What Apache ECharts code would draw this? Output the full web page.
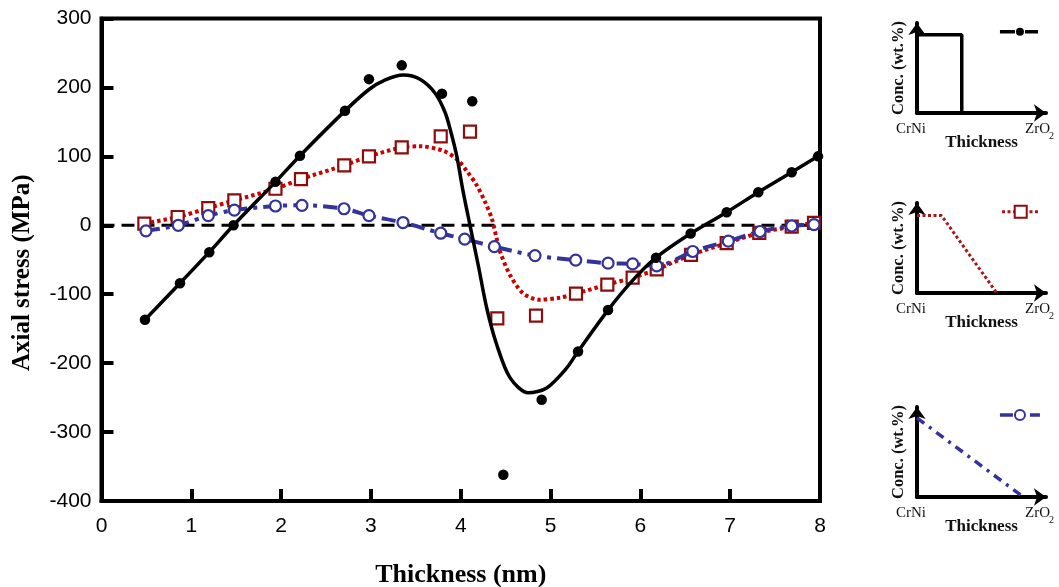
<!DOCTYPE html>
<html>
<head>
<meta charset="utf-8">
<script src="https://cdn.jsdelivr.net/npm/echarts@6/dist/echarts.min.js"></script>
<style>
html, body { margin: 0; padding: 0; background: #fff; }
#chart { width: 1059px; height: 587px; }
</style>
</head>
<body>
<div id="chart"></div>
<script>
// Axial stress (MPa) against thickness (nm) for three CrNi/ZrO2 concentration profiles
const xTickValues = [0, 1, 2, 3, 4, 5, 6, 7, 8];
const yTickValues = [-400, -300, -200, -100, 0, 100, 200, 300];

// measured points: [thickness nm, stress MPa]
const blackPoints = [
  [0.484, -137], [0.874, -84], [1.200, -39], [1.470, 0], [1.937, 63], [2.210, 101],
  [2.711, 166], [2.978, 212], [3.343, 232], [3.791, 191], [4.128, 180], [4.474, -362],
  [4.901, -253], [5.306, -183], [5.640, -123], [6.174, -47], [6.560, -12], [6.961, 19],
  [7.313, 48], [7.685, 77], [7.978, 100]
];
const redPoints = [
  [0.477, 2.5], [0.848, 12], [1.189, 25], [1.479, 36], [1.937, 53], [2.221, 67],
  [2.703, 87], [2.978, 100], [3.343, 113], [3.777, 129], [4.103, 136], [4.407, -135],
  [4.838, -131], [5.283, -99], [5.632, -86], [5.914, -76], [6.182, -64], [6.564, -43],
  [6.961, -26], [7.324, -11], [7.685, -2], [7.933, 3.5]
];
const bluePoints = [
  [0.495, -8], [0.855, 0], [1.189, 14], [1.479, 22], [1.937, 28], [2.232, 29],
  [2.700, 24], [2.978, 14], [3.357, 4], [3.777, -11.5], [4.044, -20], [4.374, -31],
  [4.827, -44], [5.280, -50.5], [5.640, -55], [5.914, -56], [6.182, -59], [6.583, -38],
  [6.979, -23], [7.332, -9], [7.685, -1], [7.933, 1]
];

// fitted trend curves
const blackFit = [
  [0.484, -137], [0.874, -84], [1.200, -39], [1.470, 0], [1.937, 63], [2.210, 101],
  [2.711, 166], [2.978, 197], [3.160, 211], [3.360, 218], [3.546, 212], [3.713, 192],
  [3.825, 164], [3.891, 135], [3.958, 99], [4.025, 50], [4.103, 0], [4.195, -58],
  [4.289, -120], [4.400, -173], [4.548, -221], [4.752, -243], [4.957, -236], [5.180, -207],
  [5.306, -183], [5.640, -123], [5.914, -80], [6.174, -47], [6.560, -12], [6.961, 19],
  [7.313, 48], [7.685, 77], [7.978, 100]
];
const redFit = [
  [0.477, 2.5], [0.848, 12], [1.189, 25], [1.479, 36], [1.937, 53], [2.221, 67],
  [2.703, 87], [2.978, 100], [3.343, 113], [3.546, 114.6], [3.806, 108], [3.955, 96],
  [4.066, 79], [4.178, 58], [4.270, 34], [4.345, 10], [4.400, -19], [4.437, -38],
  [4.548, -72], [4.697, -99], [4.882, -108], [5.105, -105], [5.283, -99], [5.632, -86],
  [5.914, -76], [6.182, -64], [6.564, -43], [6.961, -26], [7.324, -11], [7.685, -2],
  [7.933, 3.5]
];
const zeroLine = [[0, 0], [8, 0]];

// concentration profiles across the coating (normalised thickness, normalised conc.)
const stepProfile = [[0, 0.87], [0.347, 0.87], [0.347, 0]];
const plateauProfile = [[0, 0.86], [0.19, 0.86], [0.618, 0]];
const linearProfile = [[0, 0.878], [0.824, 0]];

// key glyphs next to each profile: [start, marker, end]
const keyBlack = [[0.643, 0.903], [0.798, 0.903], [0.938, 0.903]];
const keyRed = [[0.659, 0.903], [0.804, 0.903], [0.938, 0.903]];
const keyBlue = [[0.643, 0.911], [0.798, 0.911], [0.953, 0.911]];

const insetRows = [113, 293, 497];   // pixel row of each inset's thickness axis
const insetLeft = 917, insetW = 129, insetH = 90;

const RED = '#cc0000', DARKRED = '#8b0d0d', BLUE = '#333399';
const SANS = 'Liberation Sans, Arial, sans-serif';
const SERIF = 'Liberation Serif, Times New Roman, serif';

const chart = echarts.init(document.getElementById('chart'), null, { renderer: 'canvas' });

const grids = [{ left: 101.5, top: 18.5, width: 718.5, height: 482.5, show: true,
                 containLabel: false, outerBoundsMode: 'none',
                 borderColor: '#000', borderWidth: 4, backgroundColor: 'transparent' }];
insetRows.forEach(r => grids.push({ left: insetLeft, top: r - insetH, width: insetW, height: insetH,
                                    containLabel: false, outerBoundsMode: 'none' }));

const xAxes = [{
  gridIndex: 0, type: 'value', min: xTickValues[0], max: xTickValues[xTickValues.length - 1], interval: 1,
  axisLine: { onZero: false, lineStyle: { color: '#000', width: 4 } },
  axisTick: { inside: true, length: 12, lineStyle: { color: '#000', width: 4 } },
  axisLabel: { color: '#000', fontFamily: SANS, fontSize: 21, margin: 15 },
  splitLine: { show: false },
  name: 'Thickness (nm)', nameLocation: 'middle', nameGap: 61,
  nameTextStyle: { color: '#000', fontFamily: SERIF, fontWeight: 'bold', fontSize: 26 }
}];
const yAxes = [{
  gridIndex: 0, type: 'value', min: yTickValues[0], max: yTickValues[yTickValues.length - 1], interval: 100,
  axisLine: { onZero: false, lineStyle: { color: '#000', width: 4 } },
  axisTick: { inside: true, length: 12, lineStyle: { color: '#000', width: 4 } },
  axisLabel: { color: '#000', fontFamily: SANS, fontSize: 21, margin: 10 },
  splitLine: { show: false },
  name: 'Axial stress (MPa)', nameLocation: 'middle', nameGap: 66,
  nameTextStyle: { color: '#000', fontFamily: SERIF, fontWeight: 'bold', fontSize: 25, padding: [0, 26, 0, 0] }
}];
insetRows.forEach((r, i) => {
  xAxes.push({
    gridIndex: i + 1, type: 'value', min: 0, max: 1,
    axisLine: { onZero: false, symbol: ['none', 'arrow'], symbolSize: [13, 12], lineStyle: { color: '#000', width: 4 } },
    axisTick: { show: false }, axisLabel: { show: false }, splitLine: { show: false },
    name: 'Thickness', nameLocation: 'middle', nameGap: 21,
    nameTextStyle: { color: '#111', fontFamily: SERIF, fontWeight: 'bold', fontSize: 17 }
  });
  yAxes.push({
    gridIndex: i + 1, type: 'value', min: 0, max: 1,
    axisLine: { onZero: false, symbol: ['none', 'arrow'], symbolSize: [13, 12], lineStyle: { color: '#000', width: 4 } },
    axisTick: { show: false }, axisLabel: { show: false }, splitLine: { show: false },
    name: 'Conc. (wt.%)', nameLocation: 'middle', nameGap: 10,
    nameTextStyle: { color: '#111', fontFamily: SERIF, fontWeight: 'bold', fontSize: 16.5 }
  });
});

// key line with a single marker in the middle
function keyData(pts, symbol) {
  return pts.map((p, i) => ({ value: p, symbol: i === 1 ? symbol : 'none' }));
}

const series = [
  { type: 'line', data: zeroLine, symbol: 'none', silent: true, z: 1,
    lineStyle: { color: '#000', width: 3, type: [13, 7] } },
  { type: 'line', data: redFit, smooth: 0.3, symbol: 'none', z: 2,
    lineStyle: { color: RED, width: 4, type: [3.5, 3] } },
  { type: 'scatter', data: redPoints, symbol: 'rect', symbolSize: 12, z: 3,
    itemStyle: { color: '#fff', borderColor: DARKRED, borderWidth: 2.2, opacity: 1 } },
  { type: 'line', data: bluePoints, smooth: 0.3, symbol: 'circle', symbolSize: 11, showAllSymbol: true, z: 4,
    itemStyle: { color: '#fff', borderColor: BLUE, borderWidth: 2.2, opacity: 1 },
    lineStyle: { color: BLUE, width: 4, type: [14, 6, 4, 6] } },
  { type: 'line', data: blackFit, smooth: 0.3, symbol: 'none', z: 5,
    lineStyle: { color: '#000', width: 3.5 } },
  { type: 'scatter', data: blackPoints, symbol: 'circle', symbolSize: 10.5, z: 6,
    itemStyle: { color: '#000', opacity: 1 } },

  // profile 1: abrupt CrNi / ZrO2 interface
  { type: 'line', xAxisIndex: 1, yAxisIndex: 1, data: stepProfile, symbol: 'none',
    lineStyle: { color: '#000', width: 3.5 } },
  { type: 'line', xAxisIndex: 1, yAxisIndex: 1, data: keyData(keyBlack, 'circle'), symbolSize: 8,
    itemStyle: { color: '#000' }, lineStyle: { color: '#000', width: 3.5, type: [15, 10] } },
  // profile 2: plateau then graded
  { type: 'line', xAxisIndex: 2, yAxisIndex: 2, data: plateauProfile, symbol: 'none',
    lineStyle: { color: '#a81818', width: 3, type: [3, 2.5] } },
  { type: 'line', xAxisIndex: 2, yAxisIndex: 2, data: keyData(keyRed, 'rect'), symbolSize: 12,
    itemStyle: { color: '#fff', borderColor: DARKRED, borderWidth: 2 },
    lineStyle: { color: '#a81818', width: 3, type: [3, 2.5] } },
  // profile 3: linearly graded
  { type: 'line', xAxisIndex: 3, yAxisIndex: 3, data: linearProfile, symbol: 'none',
    lineStyle: { color: BLUE, width: 3.5, type: [9, 6, 3, 6] } },
  { type: 'line', xAxisIndex: 3, yAxisIndex: 3, data: keyData(keyBlue, 'circle'), symbolSize: 10,
    itemStyle: { color: '#fff', borderColor: BLUE, borderWidth: 2 },
    lineStyle: { color: BLUE, width: 3.5, type: [13, 17] } }
];

// end labels of each inset's thickness axis
const graphic = [];
insetRows.forEach(r => {
  graphic.push({ type: 'text', x: 911, y: r + 16,
    style: { text: 'CrNi', fill: '#111', font: '15px ' + SERIF, align: 'center', verticalAlign: 'middle' } });
  graphic.push({ type: 'text', x: 1025, y: r + 16,
    style: { text: 'ZrO', fill: '#111', font: '15px ' + SERIF, align: 'left', verticalAlign: 'middle' } });
  graphic.push({ type: 'text', x: 1049, y: r + 23,
    style: { text: '2', fill: '#111', font: '10px ' + SERIF, align: 'left', verticalAlign: 'middle' } });
});

chart.setOption({
  animation: false,
  backgroundColor: '#fff',
  grid: grids,
  xAxis: xAxes,
  yAxis: yAxes,
  series: series,
  graphic: graphic
});
</script>
</body>
</html>
